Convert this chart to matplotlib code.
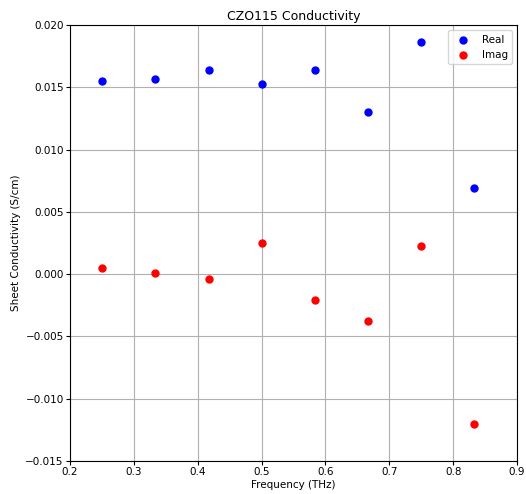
import numpy as np
import matplotlib
matplotlib.use("Agg")
import matplotlib.pyplot as plt

# frequency points (THz)
freq = [0.25, 0.333, 0.417, 0.5, 0.583, 0.667, 0.75, 0.833]
# sheet conductivity (S/cm)
sigma_real = [0.01555, 0.01567, 0.01639, 0.01527, 0.01640, 0.01300, 0.01866, 0.00690]
sigma_imag = [0.00050, 0.00008, -0.00040, 0.00248, -0.00205, -0.00378, 0.00228, -0.01205]

fig = plt.figure(figsize=(5.26, 4.94), dpi=100)
ax = fig.add_axes([0.133, 0.067, 0.850, 0.882])

ax.scatter(freq, sigma_real, color="blue", s=25, label="Real", zorder=3)
ax.scatter(freq, sigma_imag, color="red", s=25, label="Imag", zorder=3)

ax.set_xlim(0.2, 0.9)
ax.set_ylim(-0.015, 0.020)
ax.set_yticks(np.arange(-0.015, 0.0201, 0.005))
ax.grid(True, color="#b0b0b0", linewidth=0.8)
ax.tick_params(labelsize=7.5, length=3, pad=1.5)

ax.set_title("CZO115 Conductivity", fontsize=9, pad=4)
ax.set_xlabel("Frequency (THz)", fontsize=7.5, labelpad=2)
ax.set_ylabel("Sheet Conductivity (S/cm)", fontsize=7.5, labelpad=3)
ax.legend(loc="upper right", fontsize=7.5)

fig.savefig("out.png", dpi=100)
